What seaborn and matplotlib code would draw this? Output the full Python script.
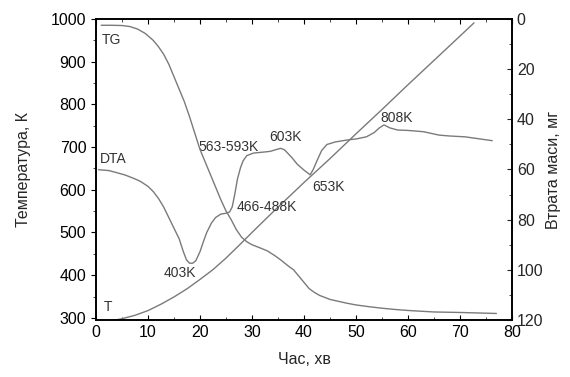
import pandas as pd
import matplotlib.pyplot as plt
import seaborn as sns
from matplotlib.ticker import MultipleLocator

# T - температура печі, K
t_time = [2.5, 5, 7.5, 10, 12.5, 15, 17.5, 20, 22.5, 25, 27.7, 30, 34.2, 40, 45, 50, 55, 60, 65, 70, 72.7]
t_temp = [292, 298, 306, 317, 332, 349, 368, 390, 413, 440, 472, 500, 550, 617, 673, 731, 788, 846, 903, 960, 991]

# DTA (в шкалі лівої осі)
dta_time = [0.5, 2.5, 4, 5.5, 7, 8.5, 10, 11, 12, 13, 14, 15, 16, 16.8, 17.4, 18, 18.6, 19.2, 20,
            20.7, 21.3, 22.2, 23, 24, 25, 25.7, 26.2, 26.7, 27.2, 27.8, 28.3, 29, 30.3, 32, 33.5,
            34.6, 35.5, 36.2, 36.7, 37.7, 38.7, 40, 41.2, 41.8, 42.5, 43.4, 44.4, 46, 48.5, 50, 52,
            53.5, 54.5, 55.4, 56.5, 58, 60, 63, 66, 68, 71, 76.2]
dta_val = [647, 645, 640, 635, 628, 620, 608, 596, 580, 560, 535, 510, 485, 455, 436, 428, 428, 434, 455,
           480, 500, 522, 535, 543, 545, 548, 560, 590, 625, 652, 668, 680, 686, 688, 690,
           694, 697, 694, 688, 675, 660, 646, 635, 648, 668, 692, 706, 712, 717, 719, 724,
           734, 745, 752, 745, 740, 739, 736, 728, 726, 724, 715]

# TG - втрата маси, мг
tg_time = [1, 3, 5, 6.5, 8, 9.5, 11, 12, 13, 14, 15, 16, 17, 18, 19, 20, 22, 24, 25, 26, 27, 28,
           29, 30, 31.5, 33, 34.5, 35.5, 37, 38, 39, 40, 41, 42, 43, 44, 45, 46.5, 48, 50, 52.5, 55,
           57.5, 60, 65, 70, 77]
tg_loss = [2.5, 2.5, 2.6, 3, 4, 5.8, 8.5, 11, 14, 18, 23, 28, 33, 39, 45.5, 52, 62, 72, 76.5, 80, 84,
           87, 88.8, 90, 91.2, 92.5, 94.5, 96, 98.5, 100, 102.5, 105, 107.5, 109, 110.2, 111, 111.8,
           112.5, 113.2, 114, 114.7, 115.3, 115.8, 116.2, 116.8, 117, 117.4]

# підписи піків
peak_labels = ["TG", "DTA", "T", "403K", "466-488K", "563-593K", "603K", "653K", "808K"]
peak_x = [1.2, 0.8, 1.4, 16.1, 27.0, 19.7, 36.4, 44.7, 57.9]
peak_y = [950, 672, 326, 405, 559, 701, 724, 606, 767]
peak_ha = ["left", "left", "left", "center", "left", "left", "center", "center", "center"]

sns.set_style("ticks")
plt.rcParams["font.family"] = ["Liberation Sans", "DejaVu Sans"]

fig = plt.figure(figsize=(5.7, 3.77), dpi=100)
ax = fig.add_axes([0.1684, 0.1512, 0.7298, 0.7984])

line_kw = dict(color="#7a7a7a", linewidth=1.0)
sns.lineplot(data=pd.DataFrame({"t": t_time, "v": t_temp}), x="t", y="v", ax=ax, **line_kw)
sns.lineplot(data=pd.DataFrame({"t": dta_time, "v": dta_val}), x="t", y="v", ax=ax, **line_kw)

ax.set_xlim(0, 80)
ax.set_ylim(295, 1000)
ax.xaxis.set_major_locator(MultipleLocator(10))
ax.xaxis.set_minor_locator(MultipleLocator(5))
ax.yaxis.set_major_locator(MultipleLocator(100))
ax.yaxis.set_minor_locator(MultipleLocator(50))
ax.set_xlabel("Час, хв", fontsize=11.5, labelpad=9)
ax.set_ylabel("Температура, К", fontsize=11.5, labelpad=14)
ax.tick_params(axis="both", labelsize=11.5, colors="black")
ax.tick_params(axis="x", which="both", direction="in", top=True)
ax.tick_params(axis="y", which="both", direction="out")

ax2 = ax.twinx()
sns.lineplot(data=pd.DataFrame({"t": tg_time, "v": tg_loss}), x="t", y="v", ax=ax2, **line_kw)
ax2.set_ylim(120, 0)
ax2.yaxis.set_major_locator(MultipleLocator(20))
ax2.yaxis.set_minor_locator(MultipleLocator(10))
ax2.set_ylabel("Втрата маси, мг", fontsize=11.5, labelpad=2)
ax2.tick_params(axis="y", which="both", direction="in", labelsize=11.5)

for s in list(ax.spines.values()) + list(ax2.spines.values()):
    s.set_color("black")
    s.set_linewidth(1.2)

for lab, x, y, ha in zip(peak_labels, peak_x, peak_y, peak_ha):
    ax.text(x, y, lab, ha=ha, va="center", fontsize=10, color="#333333")

fig.savefig("out.png", dpi=100)
